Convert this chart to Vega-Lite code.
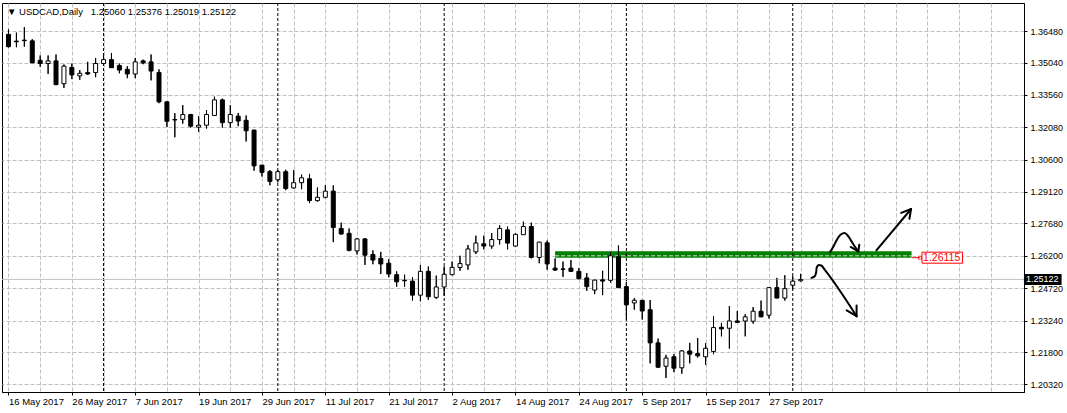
{
"$schema": "https://vega.github.io/schema/vega-lite/v6.json",
"width": 1022,
"height": 389,
"autosize": {"type": "none"},
"padding": {"left": 2, "top": 3, "right": 43, "bottom": 21},
"background": "white",
"title": {"text": "▼ USDCAD,Daily\u00a0\u00a0 1.25060 1.25376 1.25019 1.25122", "anchor": "start", "frame": "group", "orient": "top", "offset": -14, "baseline": "top", "dx": 5, "fontSize": 9.5, "fontWeight": "normal", "color": "black", "font": "Liberation Sans"},
"datasets": {
"candles": [
{"i":0,"o":1.36333,"h":1.36556,"l":1.35731,"c":1.35767},
{"i":1,"o":1.36021,"h":1.36409,"l":1.35740,"c":1.35990},
{"i":2,"o":1.36066,"h":1.36658,"l":1.35767,"c":1.36043},
{"i":3,"o":1.36034,"h":1.36110,"l":1.35018,"c":1.35027},
{"i":4,"o":1.35143,"h":1.35366,"l":1.34849,"c":1.34996},
{"i":5,"o":1.34996,"h":1.35366,"l":1.34519,"c":1.35116},
{"i":6,"o":1.35116,"h":1.35410,"l":1.34010,"c":1.34029},
{"i":7,"o":1.34073,"h":1.34951,"l":1.33882,"c":1.34876},
{"i":8,"o":1.34818,"h":1.34996,"l":1.34283,"c":1.34475},
{"i":9,"o":1.34430,"h":1.34697,"l":1.34252,"c":1.34550},
{"i":10,"o":1.34582,"h":1.35072,"l":1.34475,"c":1.34519},
{"i":11,"o":1.34582,"h":1.35250,"l":1.34372,"c":1.34996},
{"i":12,"o":1.34996,"h":1.35366,"l":1.34965,"c":1.35174},
{"i":13,"o":1.35174,"h":1.35473,"l":1.34795,"c":1.34804},
{"i":14,"o":1.34907,"h":1.34996,"l":1.34550,"c":1.34697},
{"i":15,"o":1.34729,"h":1.34876,"l":1.34327,"c":1.34519},
{"i":16,"o":1.34519,"h":1.35250,"l":1.34327,"c":1.35072},
{"i":17,"o":1.35116,"h":1.35174,"l":1.34965,"c":1.35027},
{"i":18,"o":1.35072,"h":1.35410,"l":1.34225,"c":1.34653},
{"i":19,"o":1.34582,"h":1.34729,"l":1.33182,"c":1.33244},
{"i":20,"o":1.33244,"h":1.33258,"l":1.32099,"c":1.32353},
{"i":21,"o":1.32433,"h":1.32723,"l":1.31622,"c":1.32416},
{"i":22,"o":1.32442,"h":1.33093,"l":1.32246,"c":1.32665},
{"i":23,"o":1.32665,"h":1.32692,"l":1.32068,"c":1.32130},
{"i":24,"o":1.32086,"h":1.32589,"l":1.31876,"c":1.32175},
{"i":25,"o":1.32175,"h":1.32870,"l":1.32023,"c":1.32665},
{"i":26,"o":1.32621,"h":1.33481,"l":1.32612,"c":1.33334},
{"i":27,"o":1.33334,"h":1.33392,"l":1.32068,"c":1.32291},
{"i":28,"o":1.32291,"h":1.33093,"l":1.32068,"c":1.32665},
{"i":29,"o":1.32589,"h":1.32736,"l":1.32130,"c":1.32367},
{"i":30,"o":1.32398,"h":1.32621,"l":1.31431,"c":1.31921},
{"i":31,"o":1.31952,"h":1.31965,"l":1.30094,"c":1.30316},
{"i":32,"o":1.30348,"h":1.30361,"l":1.29826,"c":1.30018},
{"i":33,"o":1.30049,"h":1.30125,"l":1.29425,"c":1.29603},
{"i":34,"o":1.29679,"h":1.30125,"l":1.29560,"c":1.30049},
{"i":35,"o":1.30049,"h":1.30138,"l":1.29202,"c":1.29278},
{"i":36,"o":1.29305,"h":1.30125,"l":1.29278,"c":1.29545},
{"i":37,"o":1.29545,"h":1.29915,"l":1.29247,"c":1.29768},
{"i":38,"o":1.29724,"h":1.29947,"l":1.28610,"c":1.28725},
{"i":39,"o":1.28725,"h":1.29323,"l":1.28681,"c":1.28877},
{"i":40,"o":1.28877,"h":1.29425,"l":1.28832,"c":1.29158},
{"i":41,"o":1.29158,"h":1.29425,"l":1.26827,"c":1.27495},
{"i":42,"o":1.27451,"h":1.27718,"l":1.27183,"c":1.27197},
{"i":43,"o":1.27228,"h":1.27451,"l":1.26408,"c":1.26452},
{"i":44,"o":1.26426,"h":1.27018,"l":1.26261,"c":1.26974},
{"i":45,"o":1.26974,"h":1.27005,"l":1.25784,"c":1.26230},
{"i":46,"o":1.26261,"h":1.26452,"l":1.25815,"c":1.26007},
{"i":47,"o":1.26083,"h":1.26381,"l":1.25370,"c":1.25829},
{"i":48,"o":1.25860,"h":1.26051,"l":1.25222,"c":1.25370},
{"i":49,"o":1.25338,"h":1.25490,"l":1.24790,"c":1.25013},
{"i":50,"o":1.25080,"h":1.25338,"l":1.24790,"c":1.25058},
{"i":51,"o":1.25044,"h":1.25222,"l":1.24153,"c":1.24402},
{"i":52,"o":1.24402,"h":1.25784,"l":1.24122,"c":1.25490},
{"i":53,"o":1.25490,"h":1.25713,"l":1.24180,"c":1.24331},
{"i":54,"o":1.24300,"h":1.25294,"l":1.24224,"c":1.24777},
{"i":55,"o":1.24777,"h":1.25713,"l":1.24376,"c":1.25356},
{"i":56,"o":1.25338,"h":1.25936,"l":1.25311,"c":1.25673},
{"i":57,"o":1.25668,"h":1.26203,"l":1.25517,"c":1.25846},
{"i":58,"o":1.25784,"h":1.26693,"l":1.25562,"c":1.26515},
{"i":59,"o":1.26381,"h":1.27121,"l":1.26283,"c":1.26787},
{"i":60,"o":1.26751,"h":1.27121,"l":1.26497,"c":1.26648},
{"i":61,"o":1.26648,"h":1.27241,"l":1.26528,"c":1.26943},
{"i":62,"o":1.26943,"h":1.27598,"l":1.26720,"c":1.27451},
{"i":63,"o":1.27388,"h":1.27540,"l":1.26497,"c":1.26782},
{"i":64,"o":1.26648,"h":1.27219,"l":1.26617,"c":1.27183},
{"i":65,"o":1.27166,"h":1.27763,"l":1.27152,"c":1.27540},
{"i":66,"o":1.27540,"h":1.27718,"l":1.26083,"c":1.26127},
{"i":67,"o":1.26127,"h":1.26840,"l":1.25860,"c":1.26827},
{"i":68,"o":1.26796,"h":1.26898,"l":1.25562,"c":1.25829},
{"i":69,"o":1.25637,"h":1.26083,"l":1.25517,"c":1.25548},
{"i":70,"o":1.25601,"h":1.25936,"l":1.25236,"c":1.25583},
{"i":71,"o":1.25637,"h":1.26007,"l":1.25459,"c":1.25490},
{"i":72,"o":1.25490,"h":1.25637,"l":1.25115,"c":1.25160},
{"i":73,"o":1.25191,"h":1.25414,"l":1.24598,"c":1.24790},
{"i":74,"o":1.24634,"h":1.25115,"l":1.24447,"c":1.25089},
{"i":75,"o":1.25102,"h":1.25517,"l":1.24402,"c":1.25044},
{"i":76,"o":1.25080,"h":1.26381,"l":1.24968,"c":1.26203},
{"i":77,"o":1.26158,"h":1.26675,"l":1.24730,"c":1.24746},
{"i":78,"o":1.24790,"h":1.25013,"l":1.23288,"c":1.23957},
{"i":79,"o":1.24046,"h":1.24269,"l":1.23734,"c":1.24166},
{"i":80,"o":1.24166,"h":1.24180,"l":1.23288,"c":1.23676},
{"i":81,"o":1.23734,"h":1.24180,"l":1.21283,"c":1.22219},
{"i":82,"o":1.22219,"h":1.22415,"l":1.21090,"c":1.21104},
{"i":83,"o":1.21149,"h":1.21670,"l":1.20614,"c":1.21523},
{"i":84,"o":1.21581,"h":1.21702,"l":1.20882,"c":1.21060},
{"i":85,"o":1.21078,"h":1.21893,"l":1.20810,"c":1.21849},
{"i":86,"o":1.21849,"h":1.22219,"l":1.21283,"c":1.21702},
{"i":87,"o":1.21728,"h":1.22442,"l":1.21550,"c":1.21626},
{"i":88,"o":1.21581,"h":1.22205,"l":1.21211,"c":1.21969},
{"i":89,"o":1.21826,"h":1.23440,"l":1.21702,"c":1.22918},
{"i":90,"o":1.22932,"h":1.23132,"l":1.22517,"c":1.22860},
{"i":91,"o":1.22887,"h":1.23899,"l":1.21960,"c":1.23221},
{"i":92,"o":1.23221,"h":1.23676,"l":1.23141,"c":1.23154},
{"i":93,"o":1.23217,"h":1.23529,"l":1.22517,"c":1.23409},
{"i":94,"o":1.23208,"h":1.23854,"l":1.23097,"c":1.23667},
{"i":95,"o":1.23663,"h":1.24153,"l":1.23395,"c":1.23409},
{"i":96,"o":1.23484,"h":1.24768,"l":1.23333,"c":1.24746},
{"i":97,"o":1.24746,"h":1.25191,"l":1.24255,"c":1.24269},
{"i":98,"o":1.24269,"h":1.25312,"l":1.24153,"c":1.24701},
{"i":99,"o":1.24857,"h":1.25267,"l":1.24670,"c":1.25044},
{"i":100,"o":1.25060,"h":1.25376,"l":1.25019,"c":1.25122}
],
"zone": [{"from": 69, "to": 114, "low": 1.26115, "high": 1.2641, "level": 1.262}],
"separators": [{"i": 12}, {"i": 34}, {"i": 55}, {"i": 78}, {"i": 99}],
"bid": [{"price": 1.25122}],
"level": [{"price": 1.26115}],
"strokes": [
{"stroke":"A","n":0,"i":103.73,"v":1.26381},
{"stroke":"A","n":1,"i":104.19,"v":1.26662},
{"stroke":"A","n":2,"i":104.56,"v":1.26929},
{"stroke":"A","n":3,"i":105.06,"v":1.27174},
{"stroke":"A","n":4,"i":105.56,"v":1.27241},
{"stroke":"A","n":5,"i":105.94,"v":1.27130},
{"stroke":"A","n":6,"i":106.31,"v":1.26929},
{"stroke":"A","n":7,"i":106.81,"v":1.26640},
{"stroke":"A","n":8,"i":107.28,"v":1.26408},
{"stroke":"A1","n":0,"i":106.31,"v":1.26604},
{"stroke":"A1","n":1,"i":107.28,"v":1.26408},
{"stroke":"A2","n":0,"i":107.40,"v":1.26707},
{"stroke":"A2","n":1,"i":107.28,"v":1.26408},
{"stroke":"B","n":0,"i":109.56,"v":1.26452},
{"stroke":"B","n":1,"i":113.94,"v":1.28342},
{"stroke":"B1","n":0,"i":112.69,"v":1.28162},
{"stroke":"B1","n":1,"i":113.94,"v":1.28342},
{"stroke":"B2","n":0,"i":113.73,"v":1.27896},
{"stroke":"B2","n":1,"i":113.94,"v":1.28342},
{"stroke":"C","n":0,"i":101.35,"v":1.25191},
{"stroke":"C","n":1,"i":101.73,"v":1.25249},
{"stroke":"C","n":2,"i":101.94,"v":1.25414},
{"stroke":"C","n":3,"i":102.03,"v":1.25668},
{"stroke":"C","n":4,"i":102.28,"v":1.25784},
{"stroke":"C","n":5,"i":102.60,"v":1.25757},
{"stroke":"C","n":6,"i":103.10,"v":1.25534},
{"stroke":"C","n":7,"i":107.06,"v":1.23440},
{"stroke":"C1","n":0,"i":105.81,"v":1.23707},
{"stroke":"C1","n":1,"i":107.06,"v":1.23440},
{"stroke":"C2","n":0,"i":107.06,"v":1.23930},
{"stroke":"C2","n":1,"i":107.06,"v":1.23440}
]
},
"layer": [
{
"data": {"name": "candles"},
"mark": {"type": "rule", "color": "black", "strokeWidth": 1},
"encoding": {
"x": {"field": "i", "type": "quantitative", "title": null, "scale": {"domain": [-0.1875, 127.5625], "nice": false, "zero": false},
 "axis": {"orient": "bottom", "title": null, "tickCount": 500,
  "values": [0,4,8,12,16,20,24,28,32,36,40,44,48,52,56,60,64,68,72,76,80,84,88,92,96,100,104,108,112,116,120,124],
  "grid": true, "gridColor": "#c0c0c0", "gridDash": [4, 2], "gridWidth": 1,
  "domain": true, "domainColor": "black", "domainWidth": 1,
  "ticks": true, "tickColor": "black", "tickSize": 3, "tickWidth": 1,
  "tickOpacity": {"condition": {"test": "datum.value % 8 === 0 && datum.value <= 96", "value": 1}, "value": 0},
  "labelExpr": "datum.value % 8 === 0 && datum.value <= 96 ? ['16 May 2017','26 May 2017','7 Jun 2017','19 Jun 2017','29 Jun 2017','11 Jul 2017','21 Jul 2017','2 Aug 2017','14 Aug 2017','24 Aug 2017','5 Sep 2017','15 Sep 2017','27 Sep 2017'][datum.value / 8] : ''",
  "labelAlign": "left", "labelBaseline": "alphabetic", "labelPadding": 9.5, "labelDx": -1,
  "labelFont": "Liberation Sans", "labelFontSize": 9.5, "labelColor": "black",
  "labelOverlap": false, "labelFlush": false, "labelBound": false}},
"y": {"field": "l", "type": "quantitative", "title": null, "scale": {"domain": [1.202, 1.37536], "nice": false, "zero": false},
 "axis": {"orient": "right", "title": null, "tickCount": 500,
  "values": [1.2032, 1.218, 1.2324, 1.2472, 1.262, 1.2768, 1.2912, 1.306, 1.3208, 1.3356, 1.3504, 1.3648],
  "format": ".5f",
  "grid": true, "gridColor": "#c0c0c0", "gridDash": [4, 2], "gridWidth": 1,
  "domain": true, "domainColor": "black", "domainWidth": 1,
  "ticks": true, "tickColor": "black", "tickSize": 3, "tickWidth": 1,
  "labelAlign": "left", "labelBaseline": "middle", "labelPadding": 3,
  "labelFont": "Liberation Sans", "labelFontSize": 9, "labelColor": "black",
  "labelOverlap": false, "labelFlush": false, "labelBound": false}},
"y2": {"field": "h"}
}
},
{
"data": {"name": "zone"},
"mark": {"type": "rect", "color": "#008000"},
"encoding": {
"x": {"field": "from", "type": "quantitative", "title": null},
"x2": {"field": "to"},
"y": {"field": "low", "type": "quantitative", "title": null},
"y2": {"field": "high"}
}
},
{
"data": {"name": "zone"},
"mark": {"type": "rule", "color": "#d8d8d8", "strokeDash": [4, 2], "strokeWidth": 1},
"encoding": {
"x": {"field": "from", "type": "quantitative", "title": null},
"x2": {"field": "to"},
"y": {"field": "level", "type": "quantitative", "title": null}
}
},
{
"data": {"name": "separators"},
"mark": {"type": "rule", "color": "black", "strokeDash": [3, 2], "strokeWidth": 1},
"encoding": {
"x": {"field": "i", "type": "quantitative", "title": null}
}
},
{
"data": {"name": "bid"},
"mark": {"type": "rule", "color": "#c0c0c0", "strokeWidth": 1},
"encoding": {
"y": {"field": "price", "type": "quantitative", "title": null}
}
},
{
"data": {"name": "candles"},
"mark": {"type": "rule", "color": "black", "strokeWidth": 1},
"encoding": {
"x": {"field": "i", "type": "quantitative", "title": null},
"y": {"field": "l", "type": "quantitative", "title": null},
"y2": {"field": "h"}
}
},
{
"data": {"name": "candles"},
"mark": {"type": "bar", "size": 4, "stroke": "black", "strokeWidth": 1},
"encoding": {
"x": {"field": "i", "type": "quantitative", "title": null},
"y": {"field": "o", "type": "quantitative", "title": null},
"y2": {"field": "c"},
"fill": {"condition": {"test": "datum.c > datum.o", "value": "white"}, "value": "black"}
}
},
{
"data": {"name": "strokes"},
"mark": {"type": "line", "color": "black", "strokeWidth": 2, "interpolate": "monotone", "strokeCap": "round", "strokeJoin": "round"},
"encoding": {
"x": {"field": "i", "type": "quantitative", "title": null},
"y": {"field": "v", "type": "quantitative", "title": null},
"detail": {"field": "stroke"},
"order": {"field": "n", "type": "quantitative"}
}
},
{
"data": {"name": "level"},
"mark": {"type": "rule", "color": "red", "strokeWidth": 1},
"encoding": {
"x": {"datum": 114.0625, "type": "quantitative", "title": null},
"x2": {"datum": 115.0625},
"y": {"field": "price", "type": "quantitative", "title": null}
}
},
{
"data": {"name": "level"},
"mark": {"type": "point", "shape": "square", "size": 9, "filled": false, "color": "red", "strokeWidth": 1},
"encoding": {
"x": {"datum": 115.0625, "type": "quantitative", "title": null},
"y": {"field": "price", "type": "quantitative", "title": null}
}
},
{
"data": {"name": "level"},
"mark": {"type": "bar", "size": 11, "fill": "white", "stroke": "red", "strokeWidth": 1, "clip": false},
"encoding": {
"x": {"datum": 115.3125, "type": "quantitative", "title": null},
"x2": {"datum": 120.4375},
"y": {"field": "price", "type": "quantitative", "title": null}
}
},
{
"data": {"name": "level"},
"mark": {"type": "text", "align": "left", "baseline": "middle", "color": "red", "fontSize": 10.5, "font": "Liberation Sans"},
"encoding": {
"x": {"datum": 115.45, "type": "quantitative", "title": null},
"y": {"field": "price", "type": "quantitative", "title": null},
"text": {"field": "price", "type": "quantitative", "format": ".5f"}
}
},
{
"data": {"name": "bid"},
"mark": {"type": "bar", "size": 11, "color": "black", "clip": false},
"encoding": {
"x": {"datum": 128.1875, "type": "quantitative", "title": null},
"x2": {"datum": 132.9375},
"y": {"field": "price", "type": "quantitative", "title": null}
}
},
{
"data": {"name": "bid"},
"mark": {"type": "text", "align": "left", "baseline": "middle", "color": "white", "fontSize": 9, "font": "Liberation Sans", "clip": false},
"encoding": {
"x": {"datum": 128.4375, "type": "quantitative", "title": null},
"y": {"field": "price", "type": "quantitative", "title": null},
"text": {"field": "price", "type": "quantitative", "format": ".5f"}
}
}
],
"config": {
"view": {"stroke": "black", "strokeWidth": 1},
"font": "Liberation Sans"
}
}
